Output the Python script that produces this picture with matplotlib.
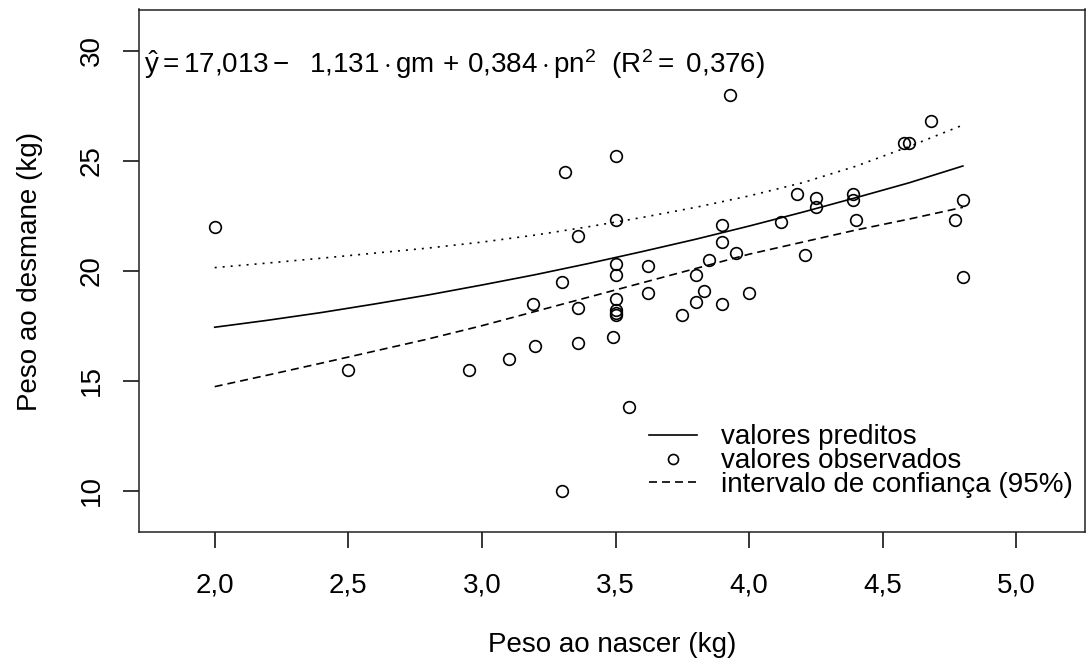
import matplotlib
matplotlib.use("Agg")
import matplotlib.pyplot as plt
from matplotlib.lines import Line2D

plt.rcParams['font.family'] = ['Liberation Sans', 'DejaVu Sans']
plt.rcParams['mathtext.fontset'] = 'custom'
plt.rcParams['mathtext.rm'] = 'Liberation Sans'
plt.rcParams['mathtext.it'] = 'Liberation Sans'

# observed values (peso ao nascer, peso ao desmane)
peso_nascer = [2.0, 2.5, 2.95, 3.1, 3.2, 3.19, 3.3, 3.3, 3.31, 3.36, 3.36, 3.36,
               3.5, 3.5, 3.5, 3.5, 3.5, 3.5, 3.5, 3.5, 3.49, 3.55, 3.62, 3.62,
               3.75, 3.8, 3.8, 3.83, 3.85, 3.9, 3.9, 3.9, 3.93, 3.95, 4.0, 4.12,
               4.18, 4.21, 4.25, 4.25, 4.39, 4.39, 4.4, 4.58, 4.6, 4.68, 4.77,
               4.8, 4.8]
peso_desmane = [22.0, 15.5, 15.5, 16.0, 16.6, 18.5, 19.5, 10.0, 24.5, 21.6, 18.3, 16.7,
                25.2, 22.3, 20.3, 19.8, 18.7, 18.2, 18.1, 18.0, 17.0, 13.8, 20.2, 19.0,
                18.0, 19.8, 18.6, 19.1, 20.5, 22.1, 21.3, 18.5, 28.0, 20.8, 19.0, 22.2,
                23.5, 20.7, 23.3, 22.9, 23.5, 23.2, 22.3, 25.8, 25.8, 26.8, 22.3,
                23.2, 19.7]

# fitted curve and confidence band
pn = [2.0, 2.2, 2.4, 2.6, 2.8, 3.0, 3.2, 3.4, 3.6, 3.8, 4.0, 4.2, 4.4, 4.6, 4.8]
preditos = [17.43, 17.75, 18.10, 18.49, 18.90, 19.35, 19.82, 20.33, 20.87, 21.43,
            22.03, 22.66, 23.32, 24.00, 24.76]
ic_sup = [20.14, 20.35, 20.57, 20.80, 21.03, 21.30, 21.62, 22.00, 22.42, 22.88,
          23.40, 24.00, 24.75, 25.65, 26.62]
ic_inf = [14.73, 15.26, 15.80, 16.35, 16.90, 17.50, 18.15, 18.80, 19.45, 20.10,
          20.75, 21.30, 21.85, 22.35, 22.88]

xticks = [2.0, 2.5, 3.0, 3.5, 4.0, 4.5, 5.0]
yticks = [10, 15, 20, 25, 30]

fs = 20
lw = 1.2

fig = plt.figure(figsize=(10.9, 6.68), dpi=100)
ax = fig.add_axes([139 / 1090, 136 / 668, 946 / 1090, 522.5 / 668])

l_pred, = ax.plot(pn, preditos, color='black', lw=lw)
ax.plot(peso_nascer, peso_desmane, ls='none', marker='o', ms=8.4,
        mfc='none', mec='black', mew=lw)
l_inf, = ax.plot(pn, ic_inf, color='black', lw=lw, dashes=(4.8, 3))
ax.plot(pn, ic_sup, color='black', lw=lw, dashes=(1.2, 3.6))

ax.set_xlim(1.7167, 5.2571)
ax.set_ylim(8.123, 31.873)
ax.set_xticks(xticks)
ax.set_xticklabels([f"{v:.1f}".replace('.', ',') for v in xticks])
ax.set_yticks(yticks)
ax.set_yticklabels([str(v) for v in yticks], rotation=90, va='center')
ax.tick_params(axis='x', length=11.5, width=1.1, pad=18, labelsize=fs)
ax.tick_params(axis='y', length=11.5, width=1.1, pad=13, labelsize=fs)
for s in ax.spines.values():
    s.set_linewidth(1.1)
    s.set_color('#222222')

eq = (r'$\hat{y} = 17{,}013 -\ \ 1{,}131 \cdot \mathrm{gm}\,+\,0{,}384 \cdot '
      r'\mathrm{pn}^2\ \ (\mathrm{R}^2 =\ 0{,}376)$')
ax.text(0.005, 0.878, eq, transform=ax.transAxes, fontsize=fs,
        va='baseline', ha='left')

l_obs = Line2D([], [], ls='none', marker='o', ms=7.2, mfc='none', mec='black', mew=lw)
ax.legend([l_pred, l_obs, l_inf],
          ['valores preditos', 'valores observados', 'intervalo de confiança (95%)'],
          loc='lower right', bbox_to_anchor=(0.987, 0.065), frameon=False,
          fontsize=fs, labelspacing=-0.08, handlelength=1.75, handletextpad=0.85,
          borderpad=0, borderaxespad=0, numpoints=1)

fig.text(612 / 1090, 1 - 645 / 668, 'Peso ao nascer (kg)', fontsize=fs,
         ha='center', va='center')
fig.text(30 / 1090, 1 - 271 / 668, 'Peso ao desmane (kg)', fontsize=fs,
         ha='center', va='center', rotation=90)

fig.savefig('out.png', dpi=100)
